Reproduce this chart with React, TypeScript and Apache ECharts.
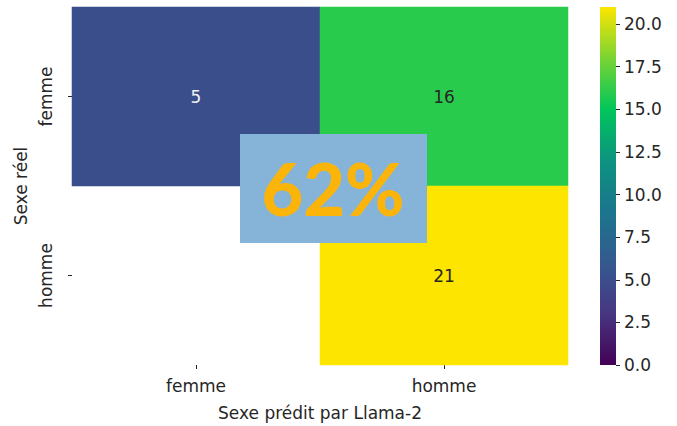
import React, { useEffect, useRef } from "react";
import * as echarts from "echarts";

const predictedCats = ["femme", "homme"];
const realCats = ["femme", "homme"];
// rows = real (femme, homme), cols = predicted (femme, homme); null = empty cell
const matrix: (number | null)[][] = [
  [5, 16],
  [null, 21],
];
const colorMin = 0;
const colorMax = 21;
const colorbarTicks = [0, 2.5, 5, 7.5, 10, 12.5, 15, 17.5, 20];
const cmap = ["#440154", "#473682", "#345a8f", "#1b758d", "#0d9380", "#00c65a", "#7ad434", "#fde500"];
const overlayText = "62%";

const FONT = "DejaVu Sans";

export default function App() {
  const ref = useRef<HTMLDivElement>(null);
  useEffect(() => {
    if (!ref.current) return;
    const chart = echarts.init(ref.current, undefined, { renderer: "svg" });
    const data: any[] = [];
    matrix.forEach((row, r) =>
      row.forEach((v, c) => {
        if (v === null) return;
        const dark = (v - colorMin) / (colorMax - colorMin) < 0.5;
        data.push({
          value: [c, r, v],
          label: { color: dark ? "#f0f0f0" : "#262626" },
        });
      })
    );
    const stops = cmap.map((color, i) => ({ offset: i / (cmap.length - 1), color }));
    chart.setOption({
      animation: false,
      backgroundColor: "#ffffff",
      textStyle: { fontFamily: FONT },
      grid: [
        { left: 72, right: 109, top: 7, bottom: 61 },
        { left: 600, width: 16, top: 7, bottom: 61 },
      ],
      xAxis: [
        {
          type: "category",
          data: predictedCats,
          gridIndex: 0,
          splitArea: { show: false },
          axisLine: { show: false },
          axisTick: { show: true, length: 4, alignWithLabel: true, lineStyle: { color: "#262626" } },
          axisLabel: { color: "#262626", fontSize: 17, fontFamily: FONT, margin: 12 },
          name: "Sexe prédit par Llama-2",
          nameLocation: "middle",
          nameGap: 39,
          nameTextStyle: { color: "#262626", fontSize: 17, fontFamily: FONT },
        },
        {
          type: "category",
          data: ["cb"],
          gridIndex: 1,
          show: false,
        },
      ],
      yAxis: [
        {
          type: "category",
          data: realCats,
          inverse: true,
          gridIndex: 0,
          axisLine: { show: false },
          axisTick: { show: true, length: 4, alignWithLabel: true, lineStyle: { color: "#262626" } },
          axisLabel: { color: "#262626", fontSize: 17, fontFamily: FONT, rotate: 90, margin: 18 },
          name: "Sexe réel",
          nameLocation: "middle",
          nameGap: 42,
          nameTextStyle: { color: "#262626", fontSize: 17, fontFamily: FONT },
        },
        {
          type: "value",
          gridIndex: 1,
          position: "right",
          min: colorMin,
          max: colorMax,
          splitLine: { show: false },
          axisLine: { show: false },
          axisTick: { show: true, length: 4, customValues: colorbarTicks, lineStyle: { color: "#262626" } },
          axisLabel: {
            color: "#262626",
            fontSize: 17,
            fontFamily: FONT,
            margin: 8,
            customValues: colorbarTicks,
            formatter: (v: number) => v.toFixed(1),
          },
        },
      ],
      visualMap: {
        show: false,
        seriesIndex: 0,
        min: colorMin,
        max: colorMax,
        dimension: 2,
        inRange: { color: cmap },
      },
      series: [
        {
          type: "heatmap",
          xAxisIndex: 0,
          yAxisIndex: 0,
          data,
          label: { show: true, fontSize: 17, fontFamily: FONT },
          itemStyle: { borderWidth: 0 },
          emphasis: { disabled: true },
          z: 1,
        },
        {
          type: "bar",
          xAxisIndex: 1,
          yAxisIndex: 1,
          data: [colorMax],
          barWidth: "100%",
          itemStyle: { color: new echarts.graphic.LinearGradient(0, 1, 0, 0, stops) },
          silent: true,
        },
      ],
      graphic: {
        elements: [
          {
            type: "rect",
            z: 1000,
            zlevel: 1,
            shape: { x: 240, y: 134, width: 187, height: 109 },
            style: { fill: "#85b4d8" },
          },
          {
            type: "text",
            z: 1001,
            zlevel: 1,
            x: 333,
            y: 188,
            style: {
              text: overlayText,
              fill: "#fbb40a",
              font: "900 72px Lato",
              align: "center",
              verticalAlign: "middle",
            },
          },
        ],
      },
    });
    return () => chart.dispose();
  }, []);
  return <div ref={ref} style={{ width: 677, height: 426, position: "absolute", left: 0, top: 0 }} />;
}
